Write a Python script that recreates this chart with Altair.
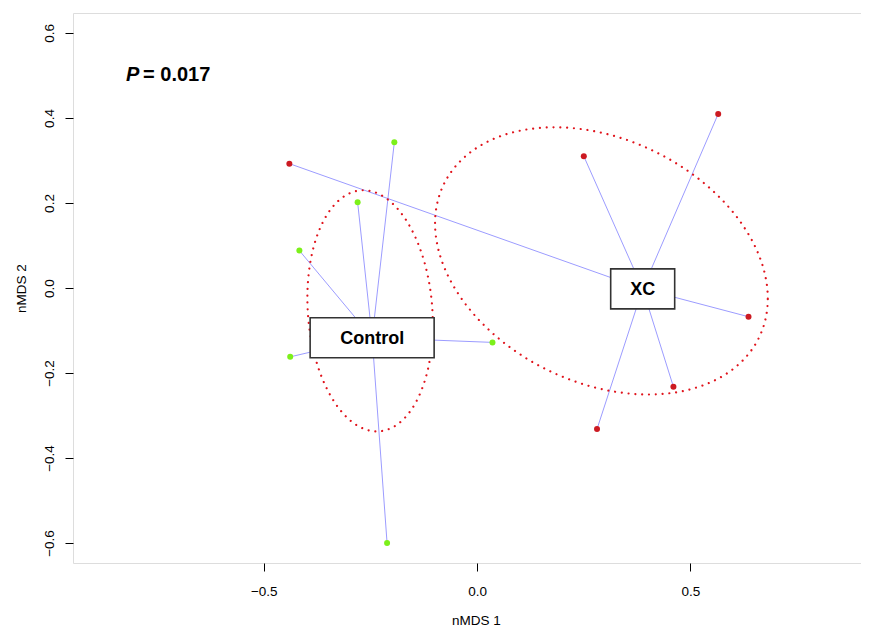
import altair as alt
import pandas as pd
import numpy as np

# ---- data ----
groups = ["Control"] * 6 + ["XC"] * 6
nmds1 = [-0.194, -0.280, -0.4165, -0.438, 0.036, -0.211,
         -0.440, 0.250, 0.565, 0.636, 0.460, 0.281]
nmds2 = [0.343, 0.2015, 0.088, -0.162, -0.128, -0.600,
         0.2926, 0.310, 0.4096, -0.0676, -0.2323, -0.3319]

centroid_groups = ["Control", "XC"]
centroid_x = [-0.246, 0.388]
centroid_y = [-0.117, -0.002]

ellipse_groups = ["Control", "XC"]
ellipse_cx = [-0.2508, 0.2913]
ellipse_cy = [-0.0537, 0.0638]
ellipse_sxx = [0.0216, 0.152]
ellipse_syy = [0.0805, 0.0988]
ellipse_sxy = [-0.0045, -0.0345]

p_label_x = [-0.8226]
p_label_y = [0.4863]

x_ticks = [-0.5, 0.0, 0.5]
y_ticks = [-0.6, -0.4, -0.2, 0.0, 0.2, 0.4, 0.6]
x_domain = [-0.947, 0.916]
y_domain = [-0.647, 0.647]

# ---- tables ----
pts = pd.DataFrame({"group": groups, "x": nmds1, "y": nmds2})
cent = pd.DataFrame({"group": centroid_groups, "cx": centroid_x, "cy": centroid_y})
spider = pts.merge(cent, on="group")

rows = []
t = np.linspace(0, 2 * np.pi, 241)
for g, cx, cy, sxx, syy, sxy in zip(ellipse_groups, ellipse_cx, ellipse_cy,
                                    ellipse_sxx, ellipse_syy, ellipse_sxy):
    a = np.sqrt(sxx)
    c = sxy / a
    d = np.sqrt(syy - c * c)
    for i, tt in enumerate(t):
        rows.append({"group": g, "idx": i,
                     "ex": cx + a * np.cos(tt),
                     "ey": cy + c * np.cos(tt) + d * np.sin(tt)})
ell = pd.DataFrame(rows)
ptxt = pd.DataFrame({"x": p_label_x, "y": p_label_y})

FONT = "Liberation Sans"
xscale = alt.Scale(domain=x_domain, nice=False, zero=False)
yscale = alt.Scale(domain=y_domain, nice=False, zero=False)
xaxis = alt.Axis(values=x_ticks, format=".1f", title="nMDS 1", grid=False,
                 domain=False, tickSize=8, tickColor="black", tickWidth=1,
                 labelFont=FONT, labelFontSize=13.5, labelColor="black",
                 labelPadding=13, labelBaseline="top",
                 titleFont=FONT, titleFontSize=13.5, titleFontWeight="normal",
                 titleColor="black", titleX=403, titleY=61,
                 titleBaseline="alphabetic", titleAlign="center")
yaxis = alt.Axis(values=y_ticks, format=".1f", title="nMDS 2", grid=False,
                 domain=False, tickSize=8, tickColor="black", tickWidth=1,
                 labelFont=FONT, labelFontSize=13.5, labelColor="black",
                 labelAngle=270, labelAlign="center", labelBaseline="alphabetic",
                 labelPadding=12,
                 titleFont=FONT, titleFontSize=13.5, titleFontWeight="normal",
                 titleColor="black", titleAngle=270, titleX=-48, titleY=275,
                 titleBaseline="alphabetic", titleAlign="center")


def X(f):
    return alt.X(f, type="quantitative", scale=xscale, axis=xaxis)


def Y(f):
    return alt.Y(f, type="quantitative", scale=yscale, axis=yaxis)


spokes = alt.Chart(spider).mark_rule(color="#9c9cff", strokeWidth=1).encode(
    x=X("x"), y=Y("y"), x2="cx", y2="cy")

ellipses = alt.Chart(ell).mark_line(
    color="#e0141c", strokeWidth=2.2, strokeDash=[0.01, 6.8], strokeCap="round"
).encode(x=X("ex"), y=Y("ey"), detail="group", order="idx")

points = alt.Chart(pts).mark_circle(size=36, opacity=1).encode(
    x=X("x"), y=Y("y"),
    color=alt.Color("group", scale=alt.Scale(domain=["Control", "XC"],
                                             range=["#7cf01a", "#cc1a22"]),
                    legend=None))

box_c = alt.Chart(cent[cent.group == "Control"]).mark_rect(
    fill="white", stroke="#333333", strokeWidth=1.6,
    xOffset=-62, x2Offset=62, yOffset=-20, y2Offset=20
).encode(x=X("cx"), x2="cx", y=Y("cy"), y2="cy")

box_x = alt.Chart(cent[cent.group == "XC"]).mark_rect(
    fill="white", stroke="#333333", strokeWidth=1.6,
    xOffset=-32, x2Offset=32, yOffset=-20, y2Offset=20
).encode(x=X("cx"), x2="cx", y=Y("cy"), y2="cy")

labels = alt.Chart(cent).mark_text(
    font=FONT, fontSize=18, fontWeight="bold", color="black",
    baseline="middle", align="center", dy=1
).encode(x=X("cx"), y=Y("cy"), text="group")

p_italic = alt.Chart(ptxt).mark_text(
    font=FONT, fontSize=20, fontWeight="bold", fontStyle="italic",
    color="black", align="left", baseline="alphabetic"
).encode(x=X("x"), y=Y("y"), text=alt.value("P"))

p_value = alt.Chart(ptxt).mark_text(
    font=FONT, fontSize=20, fontWeight="bold", color="black",
    align="left", baseline="alphabetic", dx=17
).encode(x=X("x"), y=Y("y"), text=alt.value("= 0.017"))

chart = alt.layer(
    spokes, ellipses, points, box_c, box_x, labels, p_italic, p_value
).properties(
    width=795, height=550,
    autosize=alt.AutoSizeParams(type="none"),
    padding={"left": 65, "top": 5, "right": -7, "bottom": 62},
).configure_view(stroke="black", strokeWidth=1.2).configure(background="white")

chart.save("out.html", embed_options={"renderer": "svg", "actions": False})
